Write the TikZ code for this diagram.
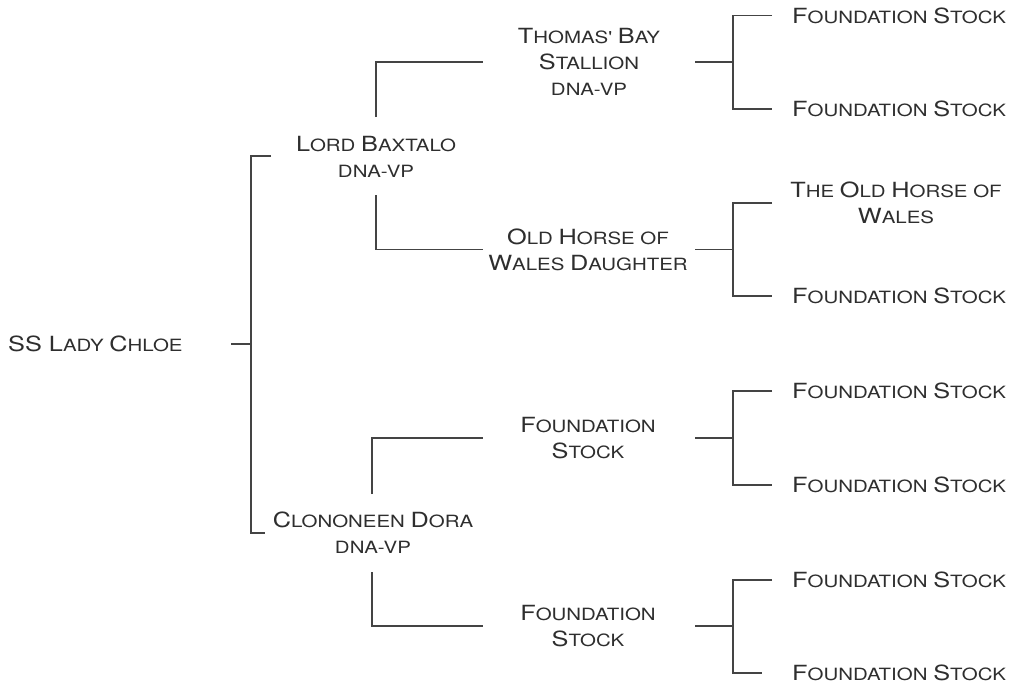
\documentclass[tikz,border=0pt]{standalone}
\usepackage{fontspec}
\newfontfamily\cp[FakeStretch=1.21]{TeX Gyre Heros}
\definecolor{ln}{HTML}{444444}
\definecolor{tx}{HTML}{2E2E2E}
\newcommand\K[1]{{\fontsize{20.9pt}{26pt}\selectfont #1}}
\begin{document}
\begin{tikzpicture}[x=1pt,y=-1pt,
  lbl/.style={inner sep=0pt, text=tx, font=\cp\fontsize{16.9pt}{26pt}\selectfont, align=center},
  link/.style={draw=ln, line width=1.1pt}]
\useasboundingbox (0,0) rectangle (1010,686);

% names
\node[lbl,anchor=west] (root) at (8,344) {\K{SS L}ADY \K{C}HLOE};
\node[lbl] (lb) at (376,157) {\K{L}ORD \K{B}AXTALO\\DNA-VP};
\node[lbl] (cd) at (373,533) {\K{C}LONONEEN \K{D}ORA\\DNA-VP};
\node[lbl] (tb) at (589,62) {\K{T}HOMAS' \K{B}AY\\\K{S}TALLION\\DNA-VP};
\node[lbl] (oh) at (588,249.5) {\K{O}LD \K{H}ORSE OF\\\K{W}ALES \K{D}AUGHTER};
\node[lbl] (fa) at (588,438) {\K{F}OUNDATION\\\K{S}TOCK};
\node[lbl] (fb) at (588,626) {\K{F}OUNDATION\\\K{S}TOCK};
\node[lbl,anchor=west] (r1) at (792,15.7) {\K{F}OUNDATION \K{S}TOCK};
\node[lbl,anchor=west] (r2) at (792,109) {\K{F}OUNDATION \K{S}TOCK};
\node[lbl] (r3) at (896,203) {\K{T}HE \K{O}LD \K{H}ORSE OF\\\K{W}ALES};
\node[lbl,anchor=west] (r4) at (792,296) {\K{F}OUNDATION \K{S}TOCK};
\node[lbl,anchor=west] (r5) at (792,391) {\K{F}OUNDATION \K{S}TOCK};
\node[lbl,anchor=west] (r6) at (792,485) {\K{F}OUNDATION \K{S}TOCK};
\node[lbl,anchor=west] (r7) at (792,580) {\K{F}OUNDATION \K{S}TOCK};
\node[lbl,anchor=west] (r8) at (792,673) {\K{F}OUNDATION \K{S}TOCK};

% level 1
\coordinate (a0) at (231,344);
\coordinate (a1) at (251,344);
\coordinate (at) at (271,156);
\coordinate (ab) at (265,533);
\draw[link] (a0) -- (a1);
\draw[link] (at) -| (a1) |- (ab);

% level 2
\coordinate (b1) at (376,117);
\coordinate (b1e) at (483,62);
\coordinate (b2) at (376,195);
\coordinate (b2e) at (483,249.5);
\draw[link] (b1) |- (b1e);
\draw[link] (b2) |- (b2e);
\coordinate (c1) at (372,494);
\coordinate (c1e) at (483,438);
\coordinate (c2) at (372,572);
\coordinate (c2e) at (483,626);
\draw[link] (c1) |- (c1e);
\draw[link] (c2) |- (c2e);

% level 3
\foreach \n/\ya/\ym/\yb/\xe in {1/15.7/62/109/772, 2/203/249.5/296/772, 3/391/438/485/772, 4/580/626/673/762} {
  \coordinate (s\n) at (695,\ym);
  \coordinate (m\n) at (733,\ym);
  \coordinate (t\n) at (772,\ya);
  \coordinate (u\n) at (\xe,\yb);
  \draw[link] (s\n) -- (m\n);
  \draw[link] (t\n) -| (m\n) |- (u\n);
}
\end{tikzpicture}
\end{document}
